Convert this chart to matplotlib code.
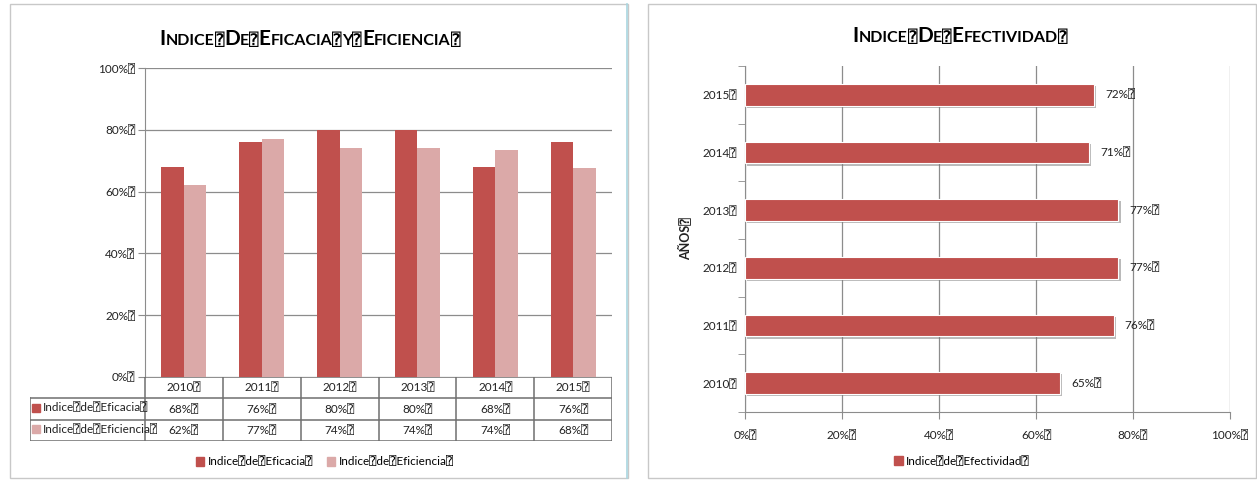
import matplotlib
matplotlib.use("Agg")
import matplotlib.pyplot as plt
from matplotlib.patches import Patch, Rectangle
from matplotlib.lines import Line2D
import matplotlib.patheffects as pe

plt.rcParams['font.family'] = ['Lato', 'DejaVu Sans', 'DejaVu Sans Mono']

B = "\u2370"  # missing-glyph box as seen in the reference

# ---- data ----
years = ["2010", "2011", "2012", "2013", "2014", "2015"]
eficacia = [68, 76, 80, 80, 68, 76]
eficiencia = [62, 77, 74, 74, 73.5, 67.5]
efectividad = [65, 76, 77, 77, 71, 72]
yticks_pct = [0, 20, 40, 60, 80, 100]
name_eficacia = "Indice" + B + "de" + B + "Eficacia" + B
name_eficiencia = "Indice" + B + "de" + B + "Eficiencia" + B
name_efectividad = "Indice" + B + "de" + B + "Efectividad" + B

C1 = "#C0504D"
C2 = "#DBA9A8"
GRID = "#8C8C8C"
TXT = "#222222"

W, H = 1257, 480
fig = plt.figure(figsize=(W / 100, H / 100), dpi=100)

def fx(px):
    return px / W

def fy(py):
    return 1 - py / H

# panel frames
fig.patches.append(Rectangle((fx(10), fy(478)), fx(628) - fx(10), fy(4) - fy(478),
                             transform=fig.transFigure, fill=False, ec="#C8C8C8", lw=1))
fig.add_artist(Line2D([fx(627), fx(627)], [fy(478), fy(4)], transform=fig.transFigure,
                      color="#A9D6E0", lw=1.2))
fig.patches.append(Rectangle((fx(648), fy(478)), fx(1256) - fx(648), fy(4) - fy(478),
                             transform=fig.transFigure, fill=False, ec="#C8C8C8", lw=1))

# ---- small caps title helper ----
def smallcaps_title(xc, yc, pieces):
    r = fig.canvas.get_renderer()
    texts = []
    for s, big in pieces:
        t = fig.text(0, fy(yc), s, fontsize=15 if big else 11.5, fontweight="bold",
                     ha="left", va="baseline", color="black")
        texts.append(t)
    widths = [t.get_window_extent(renderer=r).width for t in texts]
    total = sum(widths)
    x0 = xc - total / 2
    for t, w in zip(texts, widths):
        t.set_x(x0 / W)
        x0 += w

# ---- left chart ----
ax = fig.add_axes([fx(145), fy(377), fx(612) - fx(145), fy(68) - fy(377)])
xs = list(range(len(years)))
bw = 0.29
ax.bar([x - bw / 2 for x in xs], eficacia, width=bw, color=C1, zorder=3)
ax.bar([x + bw / 2 for x in xs], eficiencia, width=bw, color=C2, zorder=3)
ax.set_xlim(-0.5, len(years) - 0.5)
ax.set_ylim(0, 100)
ax.set_yticks(yticks_pct)
ax.set_yticklabels([f"{v}%" + B for v in yticks_pct], fontsize=8.5, color=TXT)
ax.set_xticks([])
ax.grid(axis="y", color=GRID, lw=0.9, zorder=0)
for s in ["top", "right", "bottom"]:
    ax.spines[s].set_visible(False)
ax.spines["left"].set_color(GRID)
ax.tick_params(axis="y", length=5, color=GRID, pad=2)

# table under left chart
tab = fig.add_axes([fx(30), fy(441), fx(612) - fx(30), fy(377) - fy(441)])
lab_w = (145 - 30) / ((612 - 145) / len(years))
tab.set_xlim(-0.5 - lab_w, len(years) - 0.5)
tab.set_ylim(3, 0)
tab.axis("off")
lc = "#6F6F6F"
tab.plot([-0.5, len(years) - 0.5], [0, 0], color=lc, lw=1.1)
for yv in [1, 2, 3]:
    tab.plot([-0.5 - lab_w, len(years) - 0.5], [yv, yv], color=lc, lw=1.1)
for i in range(len(years) + 1):
    tab.plot([i - 0.5, i - 0.5], [0, 3], color=lc, lw=1.1)
tab.plot([-0.5 - lab_w, -0.5 - lab_w], [1, 3], color=lc, lw=1.1)
for i, yr in enumerate(years):
    tab.text(i, 0.5, yr + B, ha="center", va="center", fontsize=8.5, color=TXT)
    tab.text(i, 1.5, f"{round(eficacia[i])}%" + B, ha="center", va="center", fontsize=8.5, color=TXT)
    tab.text(i, 2.5, f"{round(eficiencia[i])}%" + B, ha="center", va="center", fontsize=8.5, color=TXT)
for row, (nm, col) in enumerate([(name_eficacia, C1), (name_eficiencia, C2)], start=1):
    tab.plot([-0.5 - lab_w + 0.08], [row + 0.45], marker="s", ms=6, color=col, ls="none")
    tab.text(-0.5 - lab_w + 0.17, row + 0.45, nm, ha="left", va="center", fontsize=8.5, color=TXT)

fig.legend(handles=[Patch(color=C1, label=name_eficacia), Patch(color=C2, label=name_eficiencia)],
           loc="center", bbox_to_anchor=(fx(325), fy(462)), ncol=2, frameon=False,
           fontsize=8.5, handlelength=0.7, handleheight=0.7, handletextpad=0.3, columnspacing=1.2)

smallcaps_title(310, 45, [("I", True), ("NDICE", False), (B, False), ("D", True), ("E", False), (B, False),
                          ("E", True), ("FICACIA", False), (B, False), ("Y", False), (B, False),
                          ("E", True), ("FICIENCIA", False), (B, False)])

# ---- right chart ----
ax2 = fig.add_axes([fx(745), fy(412), fx(1230) - fx(745), fy(66) - fy(412)])
ys = list(range(len(years)))
bars = ax2.barh(ys, efectividad, height=0.38, color=C1, edgecolor="white", lw=0.8, zorder=3)
for b in bars:
    b.set_path_effects([pe.SimplePatchShadow(offset=(1.5, -1.5), shadow_rgbFace="#777777", alpha=0.5),
                        pe.Normal()])
for y, v in zip(ys, efectividad):
    ax2.annotate(f"{v}%" + B, (v, y), xytext=(8, 0), textcoords="offset points",
                 ha="left", va="center", fontsize=8.5, color=TXT)
ax2.set_ylim(-0.5, len(years) - 0.5)
ax2.set_xlim(0, 100)
ax2.set_yticks(ys)
ax2.set_yticklabels([y + B for y in years], fontsize=8.5, color=TXT)
ax2.set_yticks([y - 0.5 for y in ys] + [len(years) - 0.5], minor=True)
ax2.tick_params(axis="y", which="major", length=0, pad=6)
ax2.tick_params(axis="y", which="minor", length=5, color=GRID)
ax2.set_xticks(yticks_pct)
ax2.set_xticklabels([f"{v}%" + B for v in yticks_pct], fontsize=8.5, color=TXT)
ax2.tick_params(axis="x", length=5, color=GRID, pad=8)
ax2.grid(axis="x", color=GRID, lw=0.9, zorder=0)
for s in ["top", "right"]:
    ax2.spines[s].set_visible(False)
ax2.spines["left"].set_color(GRID)
ax2.spines["bottom"].set_color(GRID)
ax2.set_ylabel("AÑOS" + B, fontsize=9, fontweight="bold", labelpad=8, color=TXT)

fig.legend(handles=[Patch(color=C1, label=name_efectividad)],
           loc="center", bbox_to_anchor=(fx(962), fy(461)), ncol=1, frameon=False,
           fontsize=8.5, handlelength=0.7, handleheight=0.7, handletextpad=0.3)

smallcaps_title(960, 42, [("I", True), ("NDICE", False), (B, False), ("D", True), ("E", False), (B, False),
                          ("E", True), ("FECTIVIDAD", False), (B, False)])

fig.savefig("out.png", dpi=100)
